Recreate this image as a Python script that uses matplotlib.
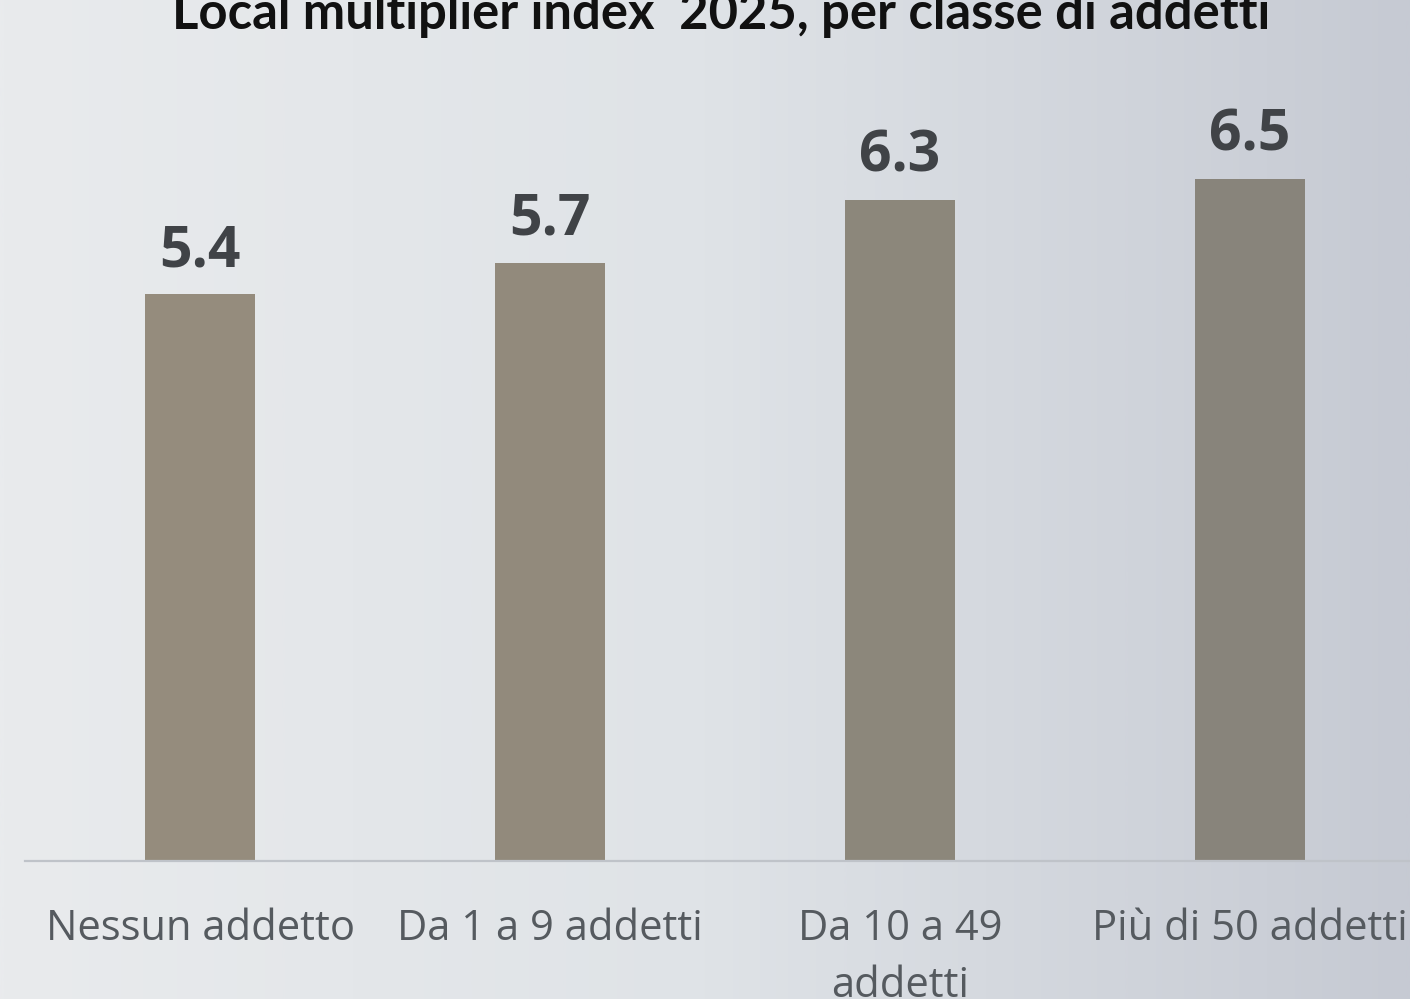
import numpy as np
import matplotlib.pyplot as plt
from matplotlib.colors import LinearSegmentedColormap

categories = ["Nessun addetto", "Da 1 a 9 addetti", "Da 10 a 49\naddetti", "Più di 50 addetti"]
values = [5.4, 5.7, 6.3, 6.5]
value_labels = ["5.4", "5.7", "6.3", "6.5"]
bar_colors = ["#958c7d", "#928a7c", "#8c877b", "#88847b"]
title = "Local multiplier index  2025, per classe di addetti"

W, H, DPI = 1410, 999, 100
fig = plt.figure(figsize=(W / DPI, H / DPI), dpi=DPI)

# horizontal background gradient
bg = fig.add_axes([0, 0, 1, 1], zorder=0)
cmap = LinearSegmentedColormap.from_list("bg", ["#e9ebed", "#dfe3e7", "#c6cad3"])
bg.imshow(np.linspace(0, 1, 512)[None, :], aspect="auto", cmap=cmap,
          extent=[0, 1, 0, 1])
bg.set_axis_off()

left, right = 25 / W, 1425 / W
bottom = (H - 861) / H
height = 840 / H
ax = fig.add_axes([left, bottom, right - left, height], zorder=1)
ax.patch.set_alpha(0)

x = np.arange(len(categories))
bars = ax.bar(x, values, width=0.314, color=bar_colors, zorder=2)
ax.set_xlim(-0.5, 3.5)
ax.set_ylim(0, 8)

for b, lab in zip(bars, value_labels):
    ax.annotate(lab, (b.get_x() + b.get_width() / 2, b.get_height()),
                xytext=(0, 20), textcoords="offset points",
                ha="center", va="baseline", fontsize=41,
                fontweight="bold", family="Open Sans", color="#404347")

for s in ["top", "left", "right"]:
    ax.spines[s].set_visible(False)
ax.spines["bottom"].set_color("#bfc3c9")
ax.spines["bottom"].set_linewidth(1.6)
ax.set_yticks([])
ax.set_xticks(x)
ax.set_xticklabels(categories, fontsize=30, family="Open Sans",
                   color="#555a5f", linespacing=1.45)
ax.tick_params(axis="x", length=0, pad=34)

fig.text(721 / W, (H - 29) / H, title, ha="center", va="baseline",
         fontsize=36.5, fontweight="bold", family="Lato", color="#111111")

fig.savefig("out.png", dpi=DPI)
